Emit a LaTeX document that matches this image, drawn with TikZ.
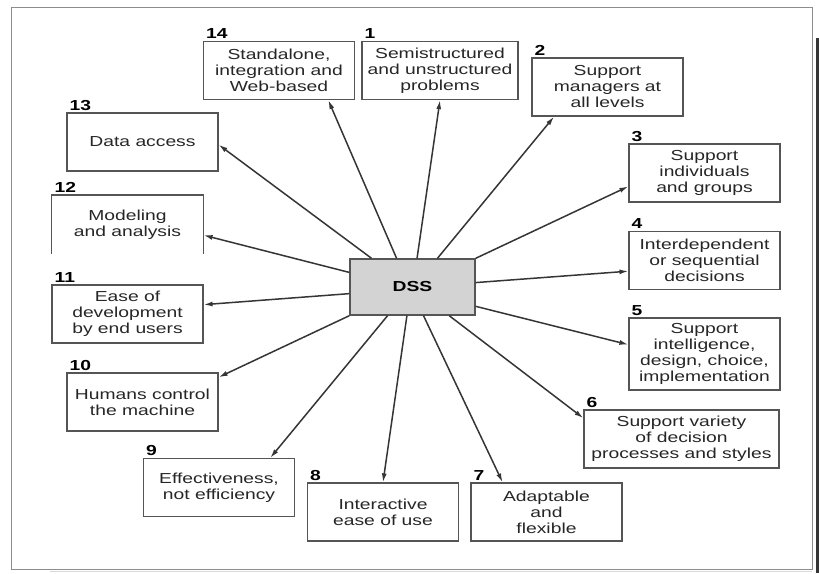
\documentclass[tikz,border=0pt]{standalone}
\usepackage{fontspec}
\setmainfont{Liberation Sans}[FakeStretch=1.33]
\usetikzlibrary{positioning,arrows.meta}
\definecolor{ink}{HTML}{353535}
\definecolor{edge}{HTML}{555555}
\definecolor{dssgray}{HTML}{D3D3D3}
\definecolor{framegray}{HTML}{8C8C8C}

\begin{document}
\begin{tikzpicture}[x=1pt, y=-1pt,
  feat/.style={draw=edge, line width=1.2pt, align=center, font=\fontsize{14.5}{16}\selectfont, text=black!85, minimum width=151pt, minimum height=58pt, inner sep=2pt},
  num/.style={font=\fontsize{14.5}{16}\selectfont\bfseries, inner sep=2pt, anchor=south west, xshift=1pt},
  arr/.style={-{Latex[length=9pt,width=5pt]}, line width=1.5pt, ink}]
  \useasboundingbox (0,0) rectangle (819,573);
  % page frame
  \draw[framegray, line width=0.8pt] (11,7) rectangle (812,569);
  \draw[black!15, line width=0.8pt] (50,571.5) -- (812,571.5);
  \draw[ink, line width=3pt] (817.5,38) -- (817.5,573);
  % centre
  \node[draw=edge, fill=dssgray, line width=1.4pt, minimum width=125pt, minimum height=56pt, font=\fontsize{14.5}{16}\selectfont\bfseries] (dss) at (412.5,287) {DSS};
  % characteristics
  \node[feat, label={[num]north west:14}] (b14) at (279,70.5) {Standalone,\\integration and\\Web-based};
  \node[feat, minimum width=156pt, label={[num]north west:1}] (b1) at (440,70.5) {Semistructured\\and unstructured\\problems};
  \node[feat, label={[num]north west:2}] (b2) at (607.5,87) {Support\\managers at\\all levels};
  \node[feat, label={[num]north west:3}] (b3) at (704.5,173) {Support\\individuals\\and groups};
  \node[feat, label={[num]north west:4}] (b4) at (704.5,260.5) {Interdependent\\or sequential\\decisions};
  \node[feat, minimum height=72pt, label={[num]north west:5}] (b5) at (704.5,354) {Support\\intelligence,\\design, choice,\\implementation};
  \node[feat, minimum width=195pt, label={[num]north west:6}] (b6) at (681.5,439) {Support variety\\of decision\\processes and styles};
  \node[feat, label={[num]north west:7}] (b7) at (546.5,512) {Adaptable\\and\\flexible};
  \node[feat, label={[num]north west:8}] (b8) at (383,512) {Interactive\\ease of use};
  \node[feat, label={[num]north west:9}] (b9) at (219,487.5) {Effectiveness,\\not efficiency};
  \node[feat, label={[num]north west:10}] (b10) at (142.5,402) {Humans control\\the machine};
  \node[feat, label={[num]north west:11}] (b11) at (127.5,314) {Ease of\\development\\by end users};
  \node[feat, draw=none, label={[num]north west:12}] (b12) at (127.5,224.5) {Modeling\\and analysis};
  \draw[edge, line width=1.2pt] (b12.south west) -- (b12.north west) -- (b12.north east) -- (b12.south east);
  \node[feat, label={[num]north west:13}] (b13) at (142.5,142) {Data access};
  % spokes
  \draw[arr] (dss.81) -- (b1.south); \draw[arr] (dss.49) -- (b2.-151); \draw[arr] (dss.north east) -- (b3.190);
  \draw[arr] (dss.4) -- (b4.188); \draw[arr] (dss.-17) -- (b5.173); \draw[arr] (dss.-38) -- (b6.168);
  \draw[arr] (dss.-69) -- (b7.146); \draw[arr] (dss.-101) -- (b8.north); \draw[arr] (dss.-131) -- (b9.30);
  \draw[arr] (dss.south west) -- (b10.18); \draw[arr] (dss.186) -- (b11.7); \draw[arr] (dss.167) -- (b12.-8);
  \draw[arr] (dss.145) -- (b13.-2); \draw[arr] (dss.119) -- (b14.-31);
\end{tikzpicture}
\end{document}
